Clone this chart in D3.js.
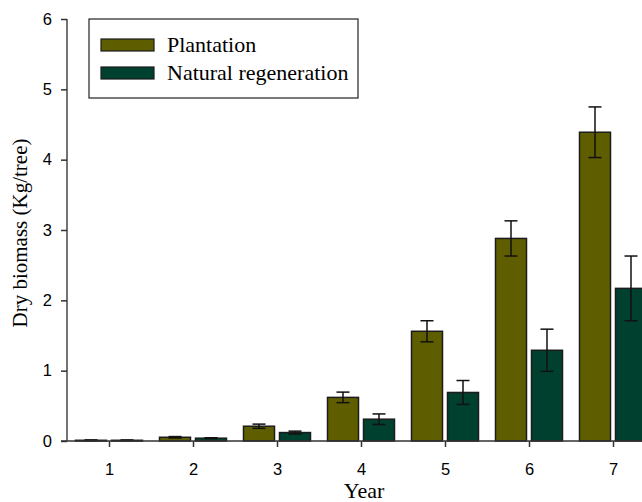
<!DOCTYPE html>
<html>
<head>
<meta charset="utf-8">
<script src="https://cdn.jsdelivr.net/npm/d3@7"></script>
<style>
  body { margin: 0; background: #fff; }
  svg { display: block; }
</style>
</head>
<body>
<div id="chart"></div>
<script>
// data
const years = [1, 2, 3, 4, 5, 6, 7];
const plantation = [0.01, 0.053, 0.21, 0.62, 1.56, 2.88, 4.39];
const plantationErr = [0.005, 0.01, 0.03, 0.075, 0.15, 0.25, 0.36];
const naturalRegen = [0.01, 0.04, 0.12, 0.31, 0.69, 1.29, 2.17];
const naturalRegenErr = [0.004, 0.006, 0.02, 0.075, 0.17, 0.3, 0.46];
const yTicks = [0, 1, 2, 3, 4, 5, 6];
const seriesNames = ["Plantation", "Natural regeneration"];
const seriesColors = ["#5e5e00", "#00402f"];

const width = 642, height = 502;

const svg = d3.select("#chart").append("svg")
    .attr("width", width)
    .attr("height", height);

const x = d3.scaleLinear().domain([0.5, 7.5]).range([67, 655]);
const y = d3.scaleLinear().domain([0, 6]).range([441, 19]);

const barW = 31;
const offsets = [-18, 18];

const series = [
    {name: seriesNames[0], color: seriesColors[0], values: plantation, err: plantationErr},
    {name: seriesNames[1], color: seriesColors[1], values: naturalRegen, err: naturalRegenErr}
];

// bars
series.forEach((s, si) => {
    const g = svg.append("g");
    g.selectAll("rect")
        .data(years)
        .enter().append("rect")
        .attr("x", (d, i) => x(d) + offsets[si] - barW / 2)
        .attr("y", (d, i) => y(s.values[i]))
        .attr("width", barW)
        .attr("height", (d, i) => y(0) - y(s.values[i]))
        .style("fill", s.color)
        .style("stroke", "#1c1c1c")
        .style("stroke-width", 1.5);

    // error bars
    const eb = svg.append("g")
        .style("stroke", "#111")
        .style("stroke-width", 1.5);
    years.forEach((d, i) => {
        const cx = x(d) + offsets[si];
        const hi = y(s.values[i] + s.err[i]);
        const lo = y(s.values[i] - s.err[i]);
        eb.append("line").attr("x1", cx).attr("x2", cx).attr("y1", hi).attr("y2", lo);
        eb.append("line").attr("x1", cx - 6.5).attr("x2", cx + 6.5).attr("y1", hi).attr("y2", hi);
        eb.append("line").attr("x1", cx - 6.5).attr("x2", cx + 6.5).attr("y1", lo).attr("y2", lo);
    });
});

// y axis
const yAxis = svg.append("g")
    .attr("transform", "translate(67,0)")
    .call(d3.axisLeft(y).tickValues(yTicks).tickFormat(d3.format("d")).tickSize(6).tickPadding(9));
yAxis.select(".domain").attr("d", "M0,19V441").style("stroke", "#444").style("stroke-width", 1.5);

// x axis
const xAxis = svg.append("g")
    .attr("transform", "translate(0,441)")
    .call(d3.axisBottom(x).tickValues(years).tickFormat(d3.format("d")).tickSize(6).tickPadding(16));
xAxis.select(".domain").attr("d", "M61,0H655").style("stroke", "#333").style("stroke-width", 1.5);

svg.selectAll(".tick line").style("stroke", "#333").style("stroke-width", 1.5);
svg.selectAll(".tick text")
    .style("font-family", "'Liberation Sans', Arial, sans-serif")
    .style("font-size", "16.5px")
    .style("fill", "#000");

// axis titles
svg.append("text")
    .attr("x", 364)
    .attr("y", 498)
    .attr("text-anchor", "middle")
    .style("font-family", "'Liberation Serif', 'Times New Roman', serif")
    .style("font-size", "22px")
    .text("Year");

svg.append("text")
    .attr("transform", "translate(27,233) rotate(-90)")
    .attr("text-anchor", "middle")
    .style("font-family", "'Liberation Serif', 'Times New Roman', serif")
    .style("font-size", "21px")
    .text("Dry biomass (Kg/tree)");

// legend
const legend = svg.append("g");
legend.append("rect")
    .attr("x", 89).attr("y", 19)
    .attr("width", 269).attr("height", 79)
    .style("fill", "#fff")
    .style("stroke", "#222")
    .style("stroke-width", 1.2);

series.forEach((s, i) => {
    const ly = 39 + i * 28;
    legend.append("rect")
        .attr("x", 101).attr("y", ly)
        .attr("width", 53).attr("height", 12)
        .style("fill", s.color)
        .style("stroke", "#1c1c1c")
        .style("stroke-width", 1.2);
    legend.append("text")
        .attr("x", 167).attr("y", ly + 13)
        .style("font-family", "'Liberation Serif', 'Times New Roman', serif")
        .style("font-size", "22px")
        .text(s.name);
});
</script>
</body>
</html>
